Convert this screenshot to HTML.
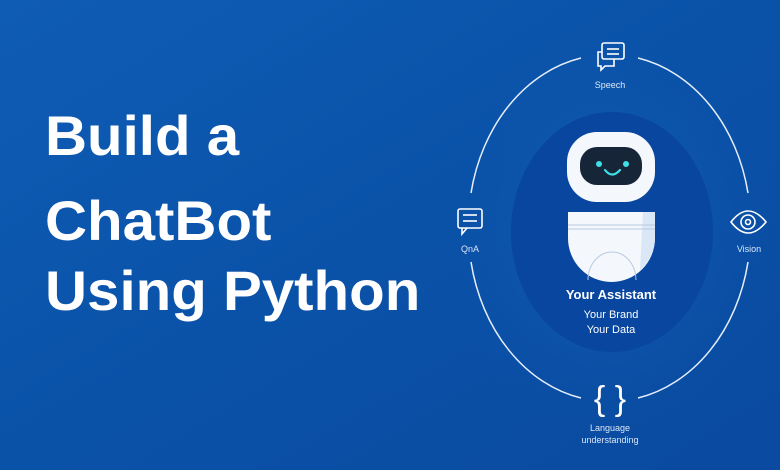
<!DOCTYPE html>
<html><head><style>
html,body{margin:0;padding:0}
body{width:780px;height:470px;overflow:hidden;background:#0b53a9}
svg{display:block}
</style></head><body>
<svg width="780" height="470" viewBox="0 0 780 470" xmlns="http://www.w3.org/2000/svg">
<defs>
<linearGradient id="bg" x1="0" y1="0" x2="1" y2="1">
<stop offset="0" stop-color="#0f5cb5"/><stop offset="0.5" stop-color="#0a52a8"/><stop offset="1" stop-color="#0a4aa0"/>
</linearGradient>
<radialGradient id="glow" cx="0.5" cy="0.5" r="0.5">
<stop offset="0" stop-color="#1f6cc4" stop-opacity="0.6"/><stop offset="1" stop-color="#0a52a8" stop-opacity="0"/>
</radialGradient>
</defs>
<rect width="780" height="470" fill="url(#bg)"/>
<ellipse cx="610" cy="230" rx="170" ry="210" fill="url(#glow)"/>
<g font-family="Liberation Sans, sans-serif" font-weight="bold" font-size="56" fill="#fff">
<text x="45" y="155" transform="translate(45 0) scale(1.04 1) translate(-45 0)">Build a</text>
<text x="45" y="240" transform="translate(45 0) scale(1.04 1) translate(-45 0)">ChatBot</text>
<text x="45" y="310" transform="translate(45 0) scale(1.04 1) translate(-45 0)">Using Python</text>
</g>
<!-- inner ellipse -->
<ellipse cx="612" cy="232" rx="101" ry="120" fill="#0846a0"/>
<!-- outer ring arcs -->
<g fill="none" stroke="#e6eefa" stroke-width="1.5">
<path d="M581 58 A140 172 0 0 0 471 193"/>
<path d="M638 58 A140 172 0 0 1 748 193"/>
<path d="M471 262 A140 172 0 0 0 581 398"/>
<path d="M748 262 A140 172 0 0 1 638 398"/>
</g>
<!-- speech icon -->
<g fill="none" stroke="#fff" stroke-width="1.6">
<rect x="602" y="43" width="22" height="16" rx="2"/>
<line x1="607" y1="49" x2="619" y2="49"/><line x1="607" y1="54" x2="619" y2="54"/>
<path d="M602 52 L598 52 L598 66 L601 66 L601 70 L605 66 L614 66 L614 59"/>
</g>
<text x="610" y="88" font-family="Liberation Sans, sans-serif" font-size="9" fill="#dbe6f6" text-anchor="middle">Speech</text>
<!-- QnA icon -->
<g fill="none" stroke="#fff" stroke-width="1.6">
<rect x="458" y="209" width="24" height="19" rx="2"/>
<line x1="463" y1="215" x2="477" y2="215"/><line x1="463" y1="221" x2="477" y2="221"/>
<path d="M462 228 L462 234 L467 228"/>
</g>
<text x="470" y="252" font-family="Liberation Sans, sans-serif" font-size="9" fill="#dbe6f6" text-anchor="middle">QnA</text>
<!-- Vision -->
<g fill="none" stroke="#fff" stroke-width="1.6">
<path d="M731 222 Q748 200 766 222 Q748 244 731 222 Z"/>
<circle cx="748" cy="222" r="7"/><circle cx="748" cy="222" r="2.5"/>
</g>
<text x="749" y="252" font-family="Liberation Sans, sans-serif" font-size="9" fill="#dbe6f6" text-anchor="middle">Vision</text>
<!-- braces -->
<text x="610" y="410" font-family="Liberation Sans, sans-serif" font-size="34" fill="#fff" text-anchor="middle">{ }</text>
<text x="610" y="431" font-family="Liberation Sans, sans-serif" font-size="9" fill="#dbe6f6" text-anchor="middle">Language</text>
<text x="610" y="443" font-family="Liberation Sans, sans-serif" font-size="9" fill="#dbe6f6" text-anchor="middle">understanding</text>
<!-- robot head -->
<rect x="567" y="132" width="88" height="70" rx="30" fill="#f4f7fc"/>
<rect x="580" y="147" width="62" height="38" rx="17" fill="#172538"/>
<circle cx="599" cy="164" r="3" fill="#3ee0e6"/><circle cx="626" cy="164" r="3" fill="#3ee0e6"/>
<path d="M605 170 Q612 179 620 170" fill="none" stroke="#3ee0e6" stroke-width="2.2" stroke-linecap="round"/>
<!-- body -->
<path d="M568 212 L655 212 L655 238 A43.5 44 0 0 1 568 238 Z" fill="#f4f7fc"/>
<path d="M643 212 L655 212 L655 238 A43.5 44 0 0 1 640 270 Z" fill="#cfe0f4" opacity="0.7"/>
<line x1="568" y1="225" x2="655" y2="225" stroke="#b8c9df" stroke-width="1"/>
<line x1="568" y1="229" x2="655" y2="229" stroke="#b8c9df" stroke-width="1"/>
<path d="M588 280 A24 28 0 0 1 636 280" fill="none" stroke="#b8c9df" stroke-width="1"/>
<g font-family="Liberation Sans, sans-serif" fill="#fff" text-anchor="middle">
<text x="611" y="299" font-size="13" font-weight="bold">Your Assistant</text>
<text x="611" y="318" font-size="11">Your Brand</text>
<text x="611" y="333" font-size="11">Your Data</text>
</g>
</svg>
</body></html>
